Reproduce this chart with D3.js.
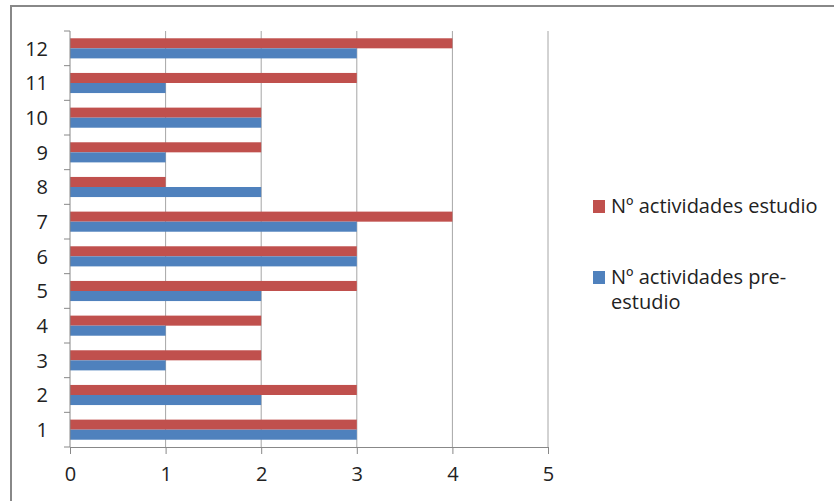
<!DOCTYPE html>
<html>
<head>
<meta charset="utf-8">
<script src="https://cdn.jsdelivr.net/npm/d3@7"></script>
<style>
  body { margin: 0; background: #fff; }
  svg text { font-family: "Open Sans", "Noto Sans", sans-serif; fill: #222; }
</style>
</head>
<body>
<svg width="834" height="501"></svg>
<script>
const categories = ["1","2","3","4","5","6","7","8","9","10","11","12"];
const estudio    = [3, 3, 2, 2, 3, 3, 4, 1, 2, 2, 3, 4];
const preEstudio = [3, 2, 1, 1, 2, 3, 3, 2, 1, 2, 1, 3];
const xTicks = [0, 1, 2, 3, 4, 5];
const seriesNames = ["Nº actividades estudio", "Nº actividades pre-estudio"];
const colors = ["#C0504D", "#4F81BD"];

const svg = d3.select("svg");
const margin = {left: 70, top: 31, right: 286, bottom: 54};
const width = 834 - margin.left - margin.right,
    height = 501 - margin.top - margin.bottom;
const fs = 20;

// outer frame (top and left edges visible, rest cut off)
svg.append("rect")
    .attr("x", 11).attr("y", 6)
    .attr("width", 840).attr("height", 520)
    .attr("fill", "none").attr("stroke", "#888").attr("stroke-width", 2);

const g = svg.append("g").attr("transform", `translate(${margin.left},${margin.top})`);

const x = d3.scaleLinear().domain([0, 5]).range([0, width]);
const y = d3.scaleBand().domain(categories.slice().reverse()).range([0, height]).paddingInner(0.42).paddingOuter(0.21);
const sub = d3.scaleBand().domain([0, 1]).range([0, y.bandwidth()]);

// gridlines
g.append("g").selectAll("line")
  .data(xTicks.slice(1))
  .enter().append("line")
    .attr("x1", d => x(d)).attr("x2", d => x(d))
    .attr("y1", 0).attr("y2", height)
    .attr("stroke", "#a6a6a6").attr("stroke-width", 1);

const rows = categories.map((c, i) => ({c: c, vals: [estudio[i], preEstudio[i]]}));

const grp = g.append("g").selectAll("g")
  .data(rows)
  .enter().append("g")
    .attr("transform", d => `translate(0,${y(d.c)})`);

grp.selectAll("rect")
  .data(d => d.vals.map((v, k) => ({v: v, k: k})))
  .enter().append("rect")
    .attr("x", 0)
    .attr("y", d => sub(d.k))
    .attr("width", d => x(d.v))
    .attr("height", sub.bandwidth())
    .attr("fill", d => colors[d.k]);

// x axis
const xAxis = g.append("g")
    .attr("transform", `translate(0,${height})`)
    .call(d3.axisBottom(x).tickValues(xTicks).tickFormat(d3.format("d")).tickSize(7).tickPadding(13).tickSizeOuter(0));
xAxis.select(".domain").attr("stroke", "#888");
xAxis.selectAll(".tick line").attr("stroke", "#888");
xAxis.selectAll("text").attr("font-size", fs).style("fill", "#222");

// y axis, ticks at band edges
const yAxis = g.append("g");
yAxis.append("line")
    .attr("x1", 0).attr("x2", 0).attr("y1", 0).attr("y2", height)
    .attr("stroke", "#888");
const step = height / categories.length;
yAxis.selectAll(".edge")
  .data(d3.range(categories.length + 1))
  .enter().append("line")
    .attr("class", "edge")
    .attr("x1", -6).attr("x2", 0)
    .attr("y1", d => d * step).attr("y2", d => d * step)
    .attr("stroke", "#888");
yAxis.selectAll("text")
  .data(categories)
  .enter().append("text")
    .attr("x", -22)
    .attr("y", d => y(d) + y.bandwidth() / 2)
    .attr("dy", "0.36em")
    .attr("text-anchor", "end")
    .attr("font-size", fs)
    .text(d => d);

// legend
const legend = svg.append("g").attr("transform", "translate(593,0)");
legend.append("rect").attr("x", 0).attr("y", 200).attr("width", 12).attr("height", 13).attr("fill", colors[0]);
legend.append("text").attr("x", 18).attr("y", 213).attr("font-size", fs).text(seriesNames[0]);
legend.append("rect").attr("x", 0).attr("y", 271).attr("width", 12).attr("height", 13).attr("fill", colors[1]);
const t2 = legend.append("text").attr("x", 18).attr("y", 284).attr("font-size", fs);
t2.append("tspan").attr("x", 18).text("Nº actividades pre-");
t2.append("tspan").attr("x", 18).attr("dy", 25).text("estudio");
</script>
</body>
</html>
